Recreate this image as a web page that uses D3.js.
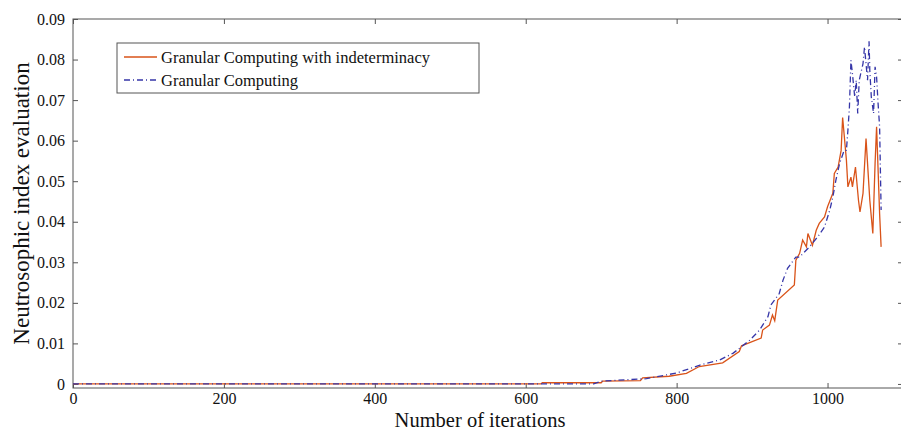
<!DOCTYPE html>
<html><head><meta charset="utf-8">
<script src="https://cdn.jsdelivr.net/npm/d3@7"></script>
<style>body{margin:0;background:#fff}svg{display:block}</style>
</head><body>
<svg id="c" width="901" height="431"></svg>
<script>
// ---- data ----
const xTicks = [0, 200, 400, 600, 800, 1000];
const yTicks = [0, 0.01, 0.02, 0.03, 0.04, 0.05, 0.06, 0.07, 0.08, 0.09];
const seriesNames = ["Granular Computing with indeterminacy", "Granular Computing"];

const iterOrange = [0, 620, 622, 700, 702, 752, 755, 790, 813, 830, 861, 883, 886, 912, 914, 923, 927, 930, 934, 956, 958, 963, 967, 972, 974, 980, 985, 989, 996, 1000, 1007, 1009, 1014, 1018, 1020, 1025, 1027, 1031, 1033, 1037, 1041, 1043, 1047, 1051, 1056, 1060, 1063, 1065, 1069, 1071];
const valOrange  = [0, 0, 0.0003, 0.0003, 0.0007, 0.0008, 0.0015, 0.0019, 0.0026, 0.0043, 0.0052, 0.0080, 0.0094, 0.0113, 0.0133, 0.0145, 0.0170, 0.0156, 0.0207, 0.0244, 0.0305, 0.0322, 0.0355, 0.0338, 0.0371, 0.0342, 0.0379, 0.0396, 0.0412, 0.0437, 0.0470, 0.0519, 0.0535, 0.0576, 0.0657, 0.0552, 0.0486, 0.0510, 0.0486, 0.0535, 0.0453, 0.0424, 0.0470, 0.0605, 0.0453, 0.0371, 0.0544, 0.0634, 0.0420, 0.0338];

const iterBlue = [0, 690, 700, 760, 800, 830, 857, 875, 897, 910, 921, 925, 936, 941, 947, 958, 963, 976, 987, 996, 1003, 1007, 1011, 1016, 1022, 1025, 1027, 1029, 1031, 1033, 1036, 1038, 1040, 1042, 1047, 1049, 1051, 1053, 1055, 1056, 1058, 1061, 1063, 1065, 1067, 1069, 1071];
const valBlue  = [0, 0, 0.0007, 0.0013, 0.0027, 0.0046, 0.0059, 0.0076, 0.0108, 0.0133, 0.0166, 0.0195, 0.0223, 0.0256, 0.0285, 0.0313, 0.0313, 0.0338, 0.0363, 0.0387, 0.0429, 0.0461, 0.0502, 0.0544, 0.0576, 0.0576, 0.0626, 0.0683, 0.0798, 0.0765, 0.0708, 0.0749, 0.0667, 0.0749, 0.0790, 0.0831, 0.0790, 0.0749, 0.0845, 0.0773, 0.0708, 0.0667, 0.0782, 0.0757, 0.0691, 0.0634, 0.0429];

// ---- layout ----
const svg = d3.select("#c");
const L = 73, R = 903, T = 19, B = 388;
const x = d3.scaleLinear().domain([0, 1100]).range([L, R]);
const y = d3.scaleLinear().domain([-0.001, 0.09]).range([B, T]);
const axisColor = "#555";
const font = "'Liberation Serif','Times New Roman',serif";

// frame
svg.append("rect").attr("x", L).attr("y", T).attr("width", R - L).attr("height", B - T)
  .attr("fill", "none").attr("stroke", axisColor).attr("stroke-width", 1);

// axes with inward ticks
const xb = svg.append("g").attr("transform", `translate(0,${B})`)
  .call(d3.axisBottom(x).tickValues(xTicks).tickSize(-5).tickPadding(5).tickFormat(d3.format("d")));
const xt = svg.append("g").attr("transform", `translate(0,${T})`)
  .call(d3.axisTop(x).tickValues(xTicks).tickSize(-5).tickFormat(""));
const yl = svg.append("g").attr("transform", `translate(${L},0)`)
  .call(d3.axisLeft(y).tickValues(yTicks).tickSize(-5).tickPadding(8).tickFormat(d => d === 0 ? "0" : d3.format(".2f")(d)));
const yr = svg.append("g").attr("transform", `translate(${R},0)`)
  .call(d3.axisRight(y).tickValues(yTicks).tickSize(-5).tickFormat(""));
[xb, xt, yl, yr].forEach(g => {
  g.select(".domain").remove();
  g.selectAll(".tick line").attr("stroke", axisColor);
  g.selectAll(".tick text").attr("fill", "#111").style("font-family", font).style("font-size", "16px");
});

// axis titles
svg.append("text").attr("x", 480).attr("y", 426.5).attr("text-anchor", "middle")
  .style("font-family", font).style("font-size", "20.5px").attr("fill", "#111").text("Number of iterations");
svg.append("text").attr("transform", `translate(29,${(T + B) / 2}) rotate(-90)`).attr("text-anchor", "middle")
  .style("font-family", font).style("font-size", "23px").attr("fill", "#111").text("Neutrosophic index evaluation");

// lines
const orange = "#D95319", blue = "#3636a8";
const dashDot = "6,3,1,3";
const lineGen = d3.line().x(d => x(d[0])).y(d => y(d[1]));
svg.append("clipPath").attr("id", "clip").append("rect")
  .attr("x", L).attr("y", T).attr("width", R - L).attr("height", B - T);
svg.append("path").datum(d3.zip(iterOrange, valOrange)).attr("d", lineGen)
  .attr("fill", "none").attr("stroke", orange).attr("stroke-width", 1.3).attr("clip-path", "url(#clip)");
svg.append("path").datum(d3.zip(iterBlue, valBlue)).attr("d", lineGen)
  .attr("fill", "none").attr("stroke", blue).attr("stroke-width", 1.3).attr("stroke-dasharray", dashDot).attr("clip-path", "url(#clip)");

// legend
const lg = svg.append("g");
lg.append("rect").attr("x", 117).attr("y", 43).attr("width", 362).attr("height", 50)
  .attr("fill", "#fff").attr("stroke", axisColor).attr("stroke-width", 1);
const styles = [{c: orange, d: null}, {c: blue, d: dashDot}];
seriesNames.forEach((n, i) => {
  const yy = 57 + i * 23;
  lg.append("line").attr("x1", 124).attr("x2", 157).attr("y1", yy).attr("y2", yy)
    .attr("stroke", styles[i].c).attr("stroke-width", 1.3).attr("stroke-dasharray", styles[i].d);
  lg.append("text").attr("x", 161).attr("y", yy + 5.5).style("font-family", font).style("font-size", "16.5px")
    .attr("fill", "#111").text(n);
});
</script>
</body></html>
